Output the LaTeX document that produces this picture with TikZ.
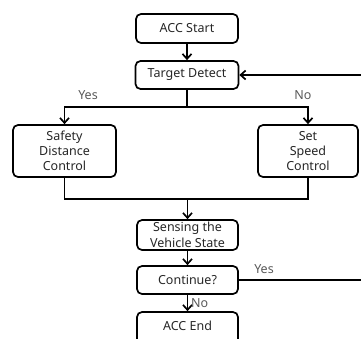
\documentclass[tikz,border=0pt]{standalone}
\usepackage{fontspec}
\setmainfont{Noto Sans}
\usetikzlibrary{arrows.meta}
\begin{document}
\begin{tikzpicture}[x=1pt,y=-1pt,
  box/.style={draw=black,line width=1.7pt,rounded corners=5pt,align=center,inner sep=1pt,text=black!85,font=\fontsize{12.5}{15}\selectfont},
  conn/.style={line width=1.7pt},
  arr/.style={conn,-{Straight Barb[length=5pt,width=9pt,line width=1.7pt]}},
  lab/.style={text=black!65,font=\fontsize{12.5}{14}\selectfont,inner sep=0pt}]
\useasboundingbox (0,0) rectangle (361,338);
\node[box,minimum width=102pt,minimum height=29pt] (start) at (187,28.5) {ACC Start};
\node[box,minimum width=103pt,minimum height=28pt] (detect) at (187,75) {Target Detect};
\node[box,minimum width=103pt,minimum height=52pt] (sdc) at (64.5,151) {Safety\\Distance\\Control};
\node[box,minimum width=100pt,minimum height=52pt] (ssc) at (308,151) {Set\\Speed\\Control};
\node[box,minimum width=101pt,minimum height=30pt,font=\fontsize{12.5}{16}\selectfont] (sense) at (187.5,235) {Sensing the\\Vehicle State};
\node[box,minimum width=101pt,minimum height=28pt] (cont) at (187.5,280) {Continue?};
\node[box,minimum width=101pt,minimum height=32pt] (end) at (187.5,328) {\raisebox{4pt}{ACC End}};
\coordinate (b1) at (187,107);
\coordinate (m1) at (187.5,199);
\coordinate (r1) at (362,75);
\coordinate (r2) at (362,280);
\draw[arr] (start) -- (detect);
\draw[conn] (detect.south) -- (b1);
\draw[arr] (b1) -| (sdc.north);
\draw[arr] (b1) -| (ssc.north);
\draw[conn] (sdc.south) |- (m1);
\draw[conn] (ssc.south) |- (m1);
\draw[arr] (m1) -- (sense.north);
\draw[arr] (sense) -- (cont);
\draw[arr] (cont) -- (end);
\draw[arr] (r1) -- (detect.east);
\draw[conn] (cont.east) -- (r2);
\node[lab] (yes1) at (88,95) {Yes};
\node[lab] (no1) at (303,95) {No};
\node[lab] (yes2) at (264,269) {Yes};
\node[lab,anchor=west] (no2) at (191,303) {No};
\end{tikzpicture}
\end{document}
